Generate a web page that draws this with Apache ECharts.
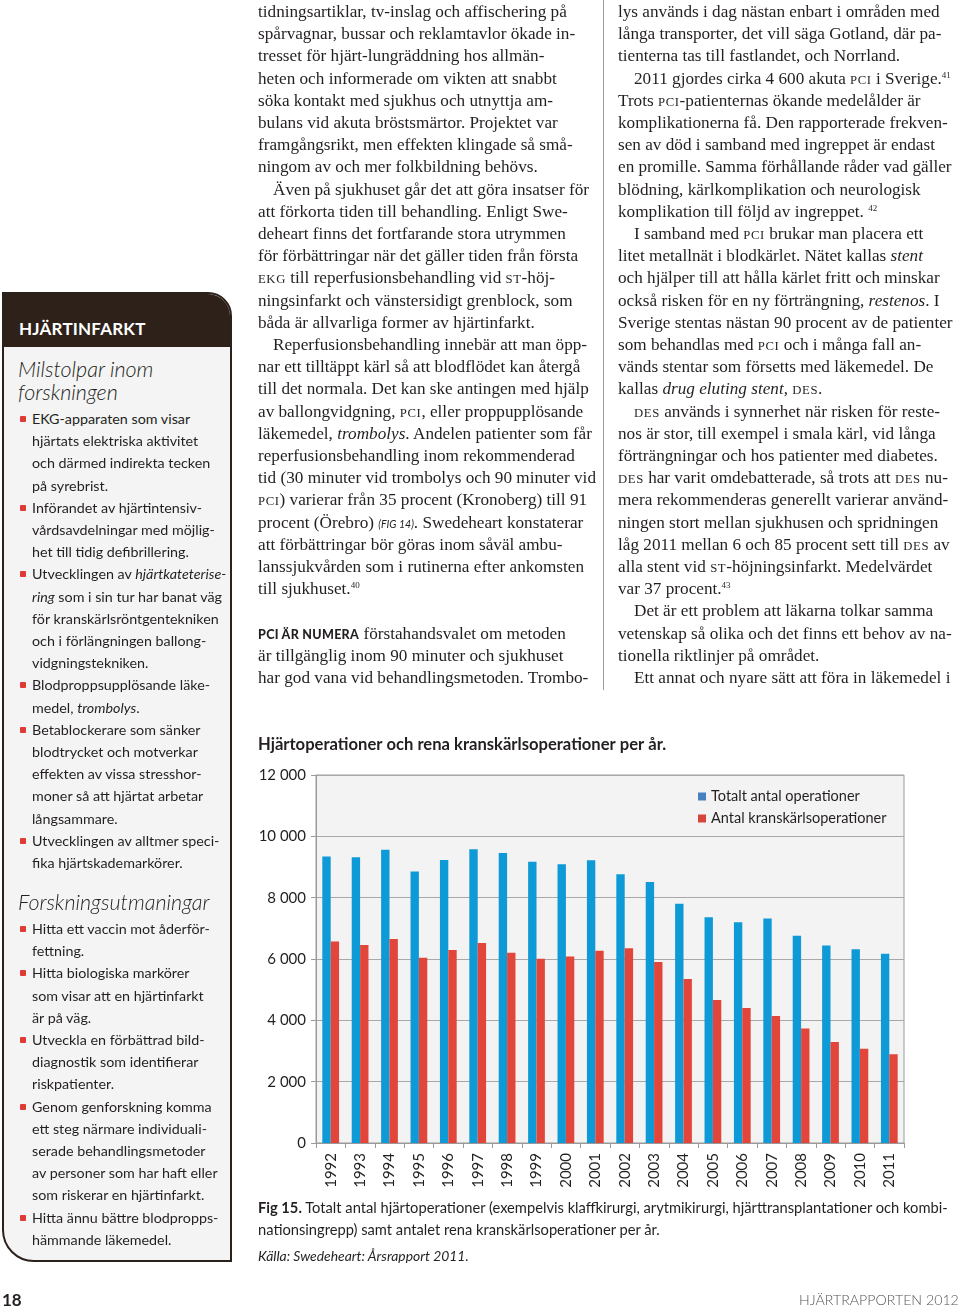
<!DOCTYPE html>
<html><head><meta charset="utf-8">
<script src="https://cdn.jsdelivr.net/npm/echarts@6/dist/echarts.min.js"></script>
<style>
html,body{margin:0;padding:0;background:#fff;}
body{width:960px;height:1312px;position:relative;overflow:hidden;}
#chart{position:absolute;left:0;top:0;width:960px;height:1312px;z-index:0;}
.ln{position:absolute;white-space:nowrap;height:22px;line-height:22px;z-index:2;color:#231f20;}
.serif{font-family:"Liberation Serif",serif;font-size:17.2px;}
.sans{font-family:Lato,sans-serif;font-size:14.3px;}
.sc{text-transform:uppercase;font-size:0.74em;letter-spacing:0.6px;}
sup{font-size:9px;vertical-align:6px;line-height:0;}
.figref{font-family:Lato,sans-serif;font-style:italic;font-size:10.5px;}
.pcihead{font-family:Lato,sans-serif;font-weight:900;font-size:12.5px;letter-spacing:0.3px;}
.bul{display:inline-block;width:6px;height:6px;background:#e03a35;margin-right:6px;vertical-align:2px;border-radius:1px;}
#sb{position:absolute;left:2px;top:292px;width:226px;height:966px;border:2px solid #2b211b;border-radius:0 24px 0 32px;background:#f4f4f4;overflow:hidden;z-index:1;}
#sbh{position:absolute;left:0;top:0;width:100%;height:53px;background:#2d2119;}
.h1{font-family:Lato,sans-serif;font-weight:700;color:#fff;font-size:17px;letter-spacing:0.2px;}
.sub{font-family:Lato,sans-serif;font-weight:300;font-style:italic;font-size:21.5px;color:#231f20;height:24px;line-height:24px;}
#vr{position:absolute;left:603px;top:0;width:1px;height:690px;background:#9a9a9a;z-index:1;}
</style></head>
<body>
<div id="chart"></div>
<div id="sb"><div id="sbh"></div></div>
<div id="vr"></div>
<div id="txt"></div>
<script>
// ---- chart data ----
var years = ['1992','1993','1994','1995','1996','1997','1998','1999','2000','2001','2002','2003','2004','2005','2006','2007','2008','2009','2010','2011'];
var totalOps = [9340,9320,9560,8850,9230,9580,9460,9170,9090,9220,8760,8510,7800,7360,7200,7320,6760,6440,6320,6170];
var coronaryOps = [6570,6460,6650,6040,6290,6520,6200,6010,6080,6270,6350,5900,5350,4660,4400,4140,3730,3290,3070,2890];
var yTicks = {min:0, max:12000, interval:2000};
var seriesNames = ['Totalt antal operationer','Antal kranskärlsoperationer'];
var chartTitle = 'Hjärtoperationer och rena kranskärlsoperationer per år.';

// ---- page text ----
var col1 = [
 [0,'tidningsartiklar, tv-inslag och affischering på'],
 [0,'spårvagnar, bussar och reklamtavlor ökade in-'],
 [0,'tresset för hjärt-lungräddning hos allmän-'],
 [0,'heten och informerade om vikten att snabbt'],
 [0,'söka kontakt med sjukhus och utnyttja am-'],
 [0,'bulans vid akuta bröstsmärtor. Projektet var'],
 [0,'framgångsrikt, men effekten klingade så små-'],
 [0,'ningom av och mer folkbildning behövs.'],
 [1,'Även på sjukhuset går det att göra insatser för'],
 [0,'att förkorta tiden till behandling. Enligt Swe-'],
 [0,'deheart finns det fortfarande stora utrymmen'],
 [0,'för förbättringar när det gäller tiden från första'],
 [0,'<span class="sc">ekg</span> till reperfusionsbehandling vid <span class="sc">st</span>-höj-'],
 [0,'ningsinfarkt och vänstersidigt grenblock, som'],
 [0,'båda är allvarliga former av hjärtinfarkt.'],
 [1,'Reperfusionsbehandling innebär att man öpp-'],
 [0,'nar ett tilltäppt kärl så att blodflödet kan återgå'],
 [0,'till det normala. Det kan ske antingen med hjälp'],
 [0,'av ballongvidgning, <span class="sc">pci</span>, eller proppupplösande'],
 [0,'läkemedel, <i>trombolys</i>. Andelen patienter som får'],
 [0,'reperfusionsbehandling inom rekommenderad'],
 [0,'tid (30 minuter vid trombolys och 90 minuter vid'],
 [0,'<span class="sc">pci</span>) varierar från 35 procent (Kronoberg) till 91'],
 [0,'procent (Örebro) <span class="figref">(FIG 14)</span>. Swedeheart konstaterar'],
 [0,'att förbättringar bör göras inom såväl ambu-'],
 [0,'lanssjukvården som i rutinerna efter ankomsten'],
 [0,'till sjukhuset.<sup>40</sup>'],
 [0,''],
 [0,'<span class="pcihead">PCI ÄR NUMERA</span> förstahandsvalet om metoden'],
 [0,'är tillgänglig inom 90 minuter och sjukhuset'],
 [0,'har god vana vid behandlingsmetoden. Trombo-']
];
var col2 = [
 [0,'lys används i dag nästan enbart i områden med'],
 [0,'långa transporter, det vill säga Gotland, där pa-'],
 [0,'tienterna tas till fastlandet, och Norrland.'],
 [1,'2011 gjordes cirka 4 600 akuta <span class="sc">pci</span> i Sverige.<sup>41</sup>'],
 [0,'Trots <span class="sc">pci</span>-patienternas ökande medelålder är'],
 [0,'komplikationerna få. Den rapporterade frekven-'],
 [0,'sen av död i samband med ingreppet är endast'],
 [0,'en promille. Samma förhållande råder vad gäller'],
 [0,'blödning, kärlkomplikation och neurologisk'],
 [0,'komplikation till följd av ingreppet. <sup>42</sup>'],
 [1,'I samband med <span class="sc">pci</span> brukar man placera ett'],
 [0,'litet metallnät i blodkärlet. Nätet kallas <i>stent</i>'],
 [0,'och hjälper till att hålla kärlet fritt och minskar'],
 [0,'också risken för en ny förträngning, <i>restenos</i>. I'],
 [0,'Sverige stentas nästan 90 procent av de patienter'],
 [0,'som behandlas med <span class="sc">pci</span> och i många fall an-'],
 [0,'vänds stentar som försetts med läkemedel. De'],
 [0,'kallas <i>drug eluting stent</i>, <span class="sc">des</span>.'],
 [1,'<span class="sc">des</span> används i synnerhet när risken för reste-'],
 [0,'nos är stor, till exempel i smala kärl, vid långa'],
 [0,'förträngningar och hos patienter med diabetes.'],
 [0,'<span class="sc">des</span> har varit omdebatterade, så trots att <span class="sc">des</span> nu-'],
 [0,'mera rekommenderas generellt varierar använd-'],
 [0,'ningen stort mellan sjukhusen och spridningen'],
 [0,'låg 2011 mellan 6 och 85 procent sett till <span class="sc">des</span> av'],
 [0,'alla stent vid <span class="sc">st</span>-höjningsinfarkt. Medelvärdet'],
 [0,'var 37 procent.<sup>43</sup>'],
 [1,'Det är ett problem att läkarna tolkar samma'],
 [0,'vetenskap så olika och det finns ett behov av na-'],
 [0,'tionella riktlinjer på området.'],
 [1,'Ett annat och nyare sätt att föra in läkemedel i']
];
var side1 = [
 [1,'EKG-apparaten som visar'],[0,'hjärtats elektriska aktivitet'],[0,'och därmed indirekta tecken'],[0,'på syrebrist.'],
 [1,'Införandet av hjärtintensiv-'],[0,'vårdsavdelningar med möjlig-'],[0,'het till tidig defibrillering.'],
 [1,'Utvecklingen av <i>hjärtkateterise-</i>'],[0,'<i>ring</i> som i sin tur har banat väg'],[0,'för kranskärlsröntgentekniken'],[0,'och i förlängningen ballong-'],[0,'vidgningstekniken.'],
 [1,'Blodproppsupplösande läke-'],[0,'medel, <i>trombolys</i>.'],
 [1,'Betablockerare som sänker'],[0,'blodtrycket och motverkar'],[0,'effekten av vissa stresshor-'],[0,'moner så att hjärtat arbetar'],[0,'långsammare.'],
 [1,'Utvecklingen av alltmer speci-'],[0,'fika hjärtskademarkörer.']
];
var side2 = [
 [1,'Hitta ett vaccin mot åderför-'],[0,'fettning.'],
 [1,'Hitta biologiska markörer'],[0,'som visar att en hjärtinfarkt'],[0,'är på väg.'],
 [1,'Utveckla en förbättrad bild-'],[0,'diagnostik som identifierar'],[0,'riskpatienter.'],
 [1,'Genom genforskning komma'],[0,'ett steg närmare individuali-'],[0,'serade behandlingsmetoder'],[0,'av personer som har haft eller'],[0,'som riskerar en hjärtinfarkt.'],
 [1,'Hitta ännu bättre blodpropps-'],[0,'hämmande läkemedel.']
];

var out = [];
function put(x, yc, cls, html, extra){
  out.push('<div class="ln '+cls+'" style="left:'+x+'px;top:'+(yc-11)+'px;'+(extra||'')+'">'+html+'</div>');
}
col1.forEach(function(l,i){ put(258 + (l[0]?15:0), 12+22.2*i, 'serif', l[1]); });
col2.forEach(function(l,i){ put(618 + (l[0]?16:0), 12+22.2*i, 'serif', l[1]); });
side1.forEach(function(l,i){ put(l[0]?20:32, 419+22.2*i, 'sans', (l[0]?'<span class="bul"></span>':'')+l[1]); });
side2.forEach(function(l,i){ put(l[0]?20:32, 929+22.2*i, 'sans', (l[0]?'<span class="bul"></span>':'')+l[1]); });
put(19, 329, 'h1', 'HJÄRTINFARKT');
put(18, 368, 'sub', 'Milstolpar inom');
put(18, 391, 'sub', 'forskningen');
put(18, 901, 'sub', 'Forskningsutmaningar');
put(258, 1207, 'sans', '<b>Fig 15.</b> Totalt antal hjärtoperationer (exempelvis klaffkirurgi, arytmikirurgi, hjärttransplantationer och kombi-', 'font-size:14.7px;');
put(258, 1229, 'sans', 'nationsingrepp) samt antalet rena kranskärlsoperationer per år.', 'font-size:14.7px;');
put(258, 1256, 'sans', '<i>Källa: Swedeheart: Årsrapport 2011.</i>', 'font-size:13.9px;');
put(2, 1300, 'sans', '<b>18</b>', 'font-size:17px;');
put(799, 1300, 'sans', 'HJÄRTRAPPORTEN 2012', 'font-size:14.2px;color:#555;font-weight:300;');
document.getElementById('txt').innerHTML = out.join('');

// ---- chart ----
var chart = echarts.init(document.getElementById('chart'), null, {renderer:'canvas'});
var axisGray = '#9a9a9a';
chart.setOption({
  animation:false,
  title:{text:chartTitle, left:253, top:731, textStyle:{fontFamily:'Lato', fontSize:16.6, fontWeight:'bold', color:'#231f20'}},
  legend:{
    orient:'vertical', left:693, top:784, itemWidth:8, itemHeight:8, itemGap:7, icon:'rect',
    textStyle:{fontFamily:'Lato', fontSize:14.5, color:'#231f20'},
    data:[{name:seriesNames[0], itemStyle:{color:'#4a7fc0'}},{name:seriesNames[1], itemStyle:{color:'#d9443a'}}]
  },
  grid:{left:316, top:775, width:588, height:368, show:true, backgroundColor:'#f3f3f3', borderColor:axisGray, borderWidth:1},
  xAxis:{
    type:'category', data:years,
    axisLine:{lineStyle:{color:axisGray}},
    axisTick:{show:true, length:5, lineStyle:{color:axisGray}},
    axisLabel:{rotate:90, margin:10, fontFamily:'Lato', fontSize:15, color:'#231f20'}
  },
  yAxis:{
    type:'value', min:yTicks.min, max:yTicks.max, interval:yTicks.interval,
    axisLine:{show:true, lineStyle:{color:axisGray}},
    axisTick:{show:true, length:5, lineStyle:{color:axisGray}},
    splitLine:{lineStyle:{color:'#a8a8a8'}},
    axisLabel:{margin:10, fontFamily:'Lato', fontSize:15, color:'#231f20',
      formatter:function(v){ return v>=1000 ? Math.floor(v/1000)+' 000' : String(v); }}
  },
  series:[
    {name:seriesNames[0], type:'bar', data:totalOps, itemStyle:{color:'#0e9ad6'}, barGap:'0%', barCategoryGap:'43%'},
    {name:seriesNames[1], type:'bar', data:coronaryOps, itemStyle:{color:'#e2463a'}, barGap:'0%', barCategoryGap:'43%'}
  ]
});
</script>
</body></html>
